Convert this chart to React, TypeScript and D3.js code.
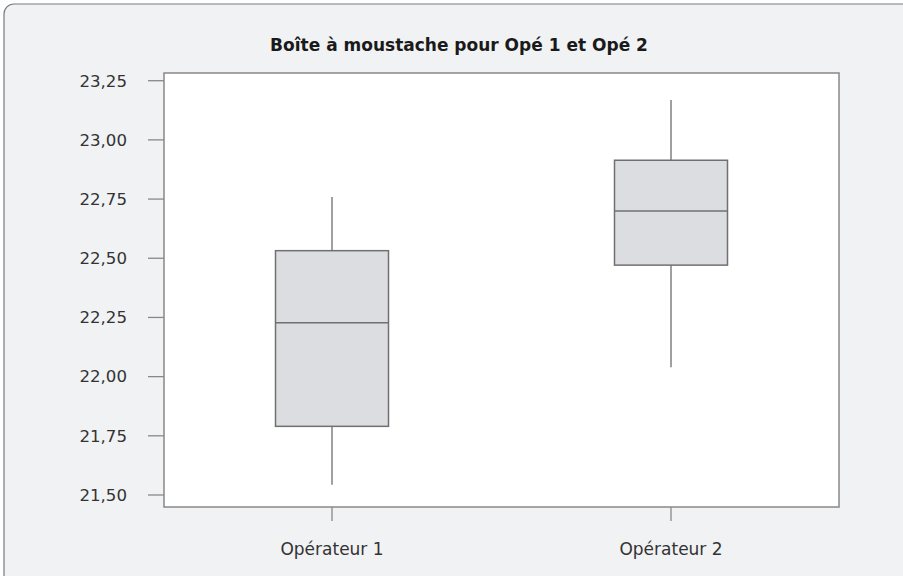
import React from "react";
import * as d3 from "d3";

const categories = ["Opérateur 1", "Opérateur 2"];
const whiskerLow = [21.543, 22.04];
const q1 = [21.79, 22.471];
const median = [22.228, 22.70];
const q3 = [22.532, 22.914];
const whiskerHigh = [22.759, 23.168];
const yTicks = [21.5, 21.75, 22.0, 22.25, 22.5, 22.75, 23.0, 23.25];
const title = "Boîte à moustache pour Opé 1 et Opé 2";

const W = 903;
const H = 576;
const plot = { left: 164, right: 839, top: 73, bottom: 507 };
const font = "'DejaVu Sans', Lato, sans-serif";

export default function App() {
  const y = d3.scaleLinear().domain([21.5, 23.25]).range([495, 80.7]);
  const x = d3
    .scalePoint<string>()
    .domain(categories)
    .range([332, 671]);
  const boxW = 113;
  const fmt = (v: number) => d3.format(".2f")(v).replace(".", ",");

  return (
    <div style={{ position: "absolute", left: 0, top: 0 }}>
      <svg width={W} height={H} style={{ display: "block" }}>
        <rect x={0} y={0} width={W} height={H} fill="#ffffff" />
        <rect
          x={4}
          y={4}
          width={W + 20}
          height={H + 20}
          rx={10}
          fill="#f1f2f4"
          stroke="#7a7a7a"
          strokeWidth={1.2}
        />
        <text
          x={459}
          y={45}
          dy="0.35em"
          textAnchor="middle"
          fontFamily={font}
          fontWeight={700}
          fontSize={17}
          fill="#1a1a1a"
        >
          {title}
        </text>
        <rect
          x={plot.left}
          y={plot.top}
          width={plot.right - plot.left}
          height={plot.bottom - plot.top}
          fill="#ffffff"
          stroke="#888888"
          strokeWidth={1.5}
        />
        {yTicks.map((t) => (
          <g key={t}>
            <line
              x1={148}
              x2={plot.left}
              y1={y(t)}
              y2={y(t)}
              stroke="#888888"
              strokeWidth={1.3}
            />
            <text
              x={127}
              y={y(t)}
              dy="0.35em"
              textAnchor="end"
              fontFamily={font}
              fontSize={16.6}
              fill="#333333"
            >
              {fmt(t)}
            </text>
          </g>
        ))}
        {categories.map((c) => (
          <g key={c}>
            <line
              x1={x(c)!}
              x2={x(c)!}
              y1={plot.bottom}
              y2={521}
              stroke="#888888"
              strokeWidth={1.3}
            />
            <text
              x={x(c)!}
              y={549}
              dy="0.35em"
              textAnchor="middle"
              fontFamily={font}
              fontSize={17}
              fill="#333333"
            >
              {c}
            </text>
          </g>
        ))}
        {categories.map((c, i) => {
          const cx = x(c)!;
          return (
            <g key={"b" + c}>
              <line
                x1={cx}
                x2={cx}
                y1={y(whiskerHigh[i])}
                y2={y(q3[i])}
                stroke="#808080"
                strokeWidth={1.5}
              />
              <line
                x1={cx}
                x2={cx}
                y1={y(q1[i])}
                y2={y(whiskerLow[i])}
                stroke="#808080"
                strokeWidth={1.5}
              />
              <rect
                x={cx - boxW / 2}
                y={y(q3[i])}
                width={boxW}
                height={y(q1[i]) - y(q3[i])}
                fill="#dcdde0"
                stroke="#707070"
                strokeWidth={1.5}
              />
              <line
                x1={cx - boxW / 2}
                x2={cx + boxW / 2}
                y1={y(median[i])}
                y2={y(median[i])}
                stroke="#707070"
                strokeWidth={1.5}
              />
            </g>
          );
        })}
      </svg>
    </div>
  );
}
